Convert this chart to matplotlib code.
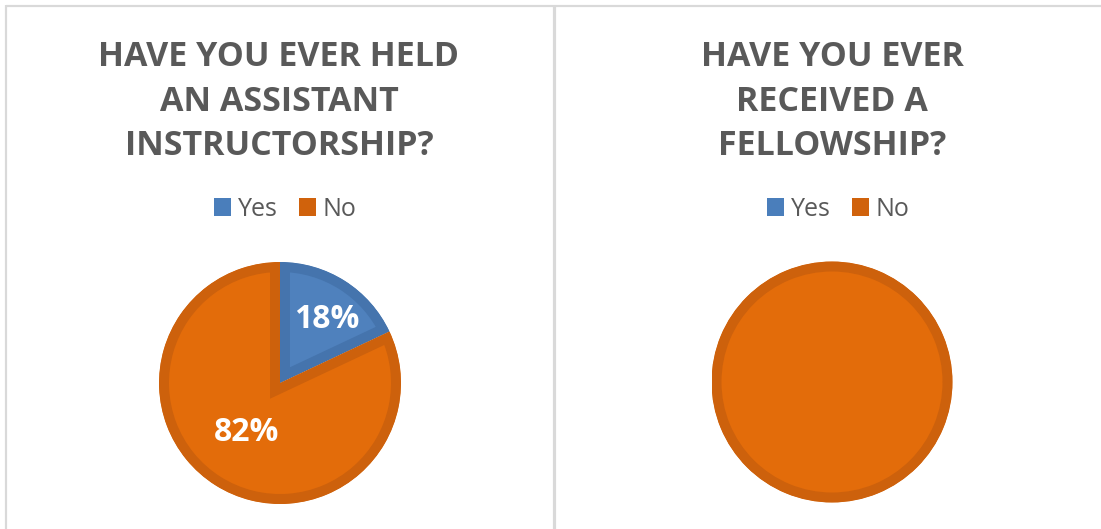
import matplotlib
matplotlib.use("Agg")
import matplotlib.pyplot as plt
from matplotlib.lines import Line2D
from matplotlib.patches import Patch
import numpy as np

plt.rcParams["font.family"] = ["Open Sans", "DejaVu Sans"]

W, H = 1101, 529

labels = ["Yes", "No"]
titles = ["HAVE YOU EVER HELD\nAN ASSISTANT\nINSTRUCTORSHIP?",
          "HAVE YOU EVER\nRECEIVED A\nFELLOWSHIP?"]
instructorship = [18, 82]
fellowship = [0, 100]

fill_colors = ["#4F81BD", "#E36C0A"]
edge_colors = ["#4574AD", "#CD610C"]
legend_colors = ["#4A7EBB", "#D0620C"]
text_gray = "#595959"
border = "#D9D9D9"

fig = plt.figure(figsize=(W / 100, H / 100), dpi=100)
fig.patch.set_facecolor("white")

def fx(x): return x / W
def fy(y): return 1 - y / H

# panel borders
for xs, ys, lw in [([6, W], [5.5, 5.5], 2.2), ([6.5, 6.5], [5, H], 2.2),
                   ([554, 554], [5, H], 3.2)]:
    fig.add_artist(Line2D([fx(x) for x in xs], [fy(y) for y in ys],
                          color=border, lw=lw * 0.72, transform=fig.transFigure,
                          solid_capstyle="butt"))

def draw_panel(cx, cy, r, title, values, label_pos, title_x):
    fig.text(fx(title_x), fy(40), title, ha="center", va="top", fontsize=24.5,
             fontweight="bold", color=text_gray, linespacing=1.41)

    handles = [Patch(facecolor=c, edgecolor="none") for c in legend_colors]
    fig.legend(handles, labels, loc="center", bbox_to_anchor=(fx(title_x + 6), fy(209)),
               ncol=2, frameon=False, fontsize=18, labelcolor=text_gray,
               handlelength=0.7, handleheight=0.7, handletextpad=0.25,
               columnspacing=0.85)

    ax = fig.add_axes([fx(cx - r), fy(cy + r), 2 * r / W, 2 * r / H])
    bevel = 10
    wedges, _ = ax.pie(values, colors=fill_colors, startangle=90, counterclock=False,
                       radius=1, wedgeprops=dict(linewidth=2 * bevel * 0.72,
                                                 joinstyle="miter"))
    total = sum(values)
    for w, v, ec in zip(wedges, values, edge_colors):
        w.set_edgecolor(ec)
        # keep the darker rim inside each slice
        w.set_clip_on(True)
        w.set_clip_path(w)
        if v == 0:
            w.set_visible(False)
    if label_pos is not None:
        for w, v, (d, dx, dy) in zip(wedges, values, label_pos):
            ang = np.deg2rad((w.theta1 + w.theta2) / 2)
            ax.text(d * np.cos(ang) + dx, d * np.sin(ang) + dy, f"{v / total:.0%}",
                    ha="center", va="center", fontsize=23, fontweight="bold",
                    color="white")
    ax.set_xlim(-1, 1)
    ax.set_ylim(-1, 1)
    ax.set_aspect("equal")
    ax.axis("off")

draw_panel(280, 383, 121, titles[0], instructorship,
           [(0.68, 0.02, -0.05), (0.46, -0.03, -0.02)], 279)
draw_panel(832, 382, 120.5, titles[1], fellowship, None, 832)

fig.savefig("out.png", dpi=100)
